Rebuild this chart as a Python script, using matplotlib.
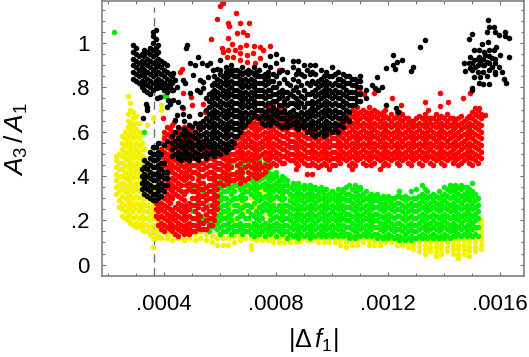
import matplotlib
matplotlib.use("Agg")
import matplotlib.pyplot as plt
from matplotlib.ticker import FixedLocator

plt.rcParams['font.family'] = ['Liberation Sans', 'DejaVu Sans']
plt.rcParams['mathtext.fontset'] = 'custom'
plt.rcParams['mathtext.rm'] = 'Liberation Sans'
plt.rcParams['mathtext.it'] = 'Liberation Sans:italic'

# columns: x (in 1e-5) -> y values (in 0.01)
yellow_cols = {
 23:[32,35,38,41,44,47,49], 25:[22,25,28,31,34,37,40,43,46,49,52,55,58], 24:[26,29,33,36,40,43,46,50],
 27:[20,23,26,29,32,35,38,41,44,47,50,53,56,59,62,65,68,76], 26:[21,24,27,30,33,36,39,42,45,48,51,54,57,60],
 28:[19,22,25,28,31,34,37,40,43,46,49,52,55,58,61,64,70,73], 29:[18,21,24,27,30,33,36,39,42,45,48,51,54,57,60,63,66,69],
 30:[17,19,22,25,28,31,34,37,40,43,46,49,52,55,58,61,64,67], 31:[18,21,24,27,30,33,36,39,42,45,48,51,54,57,60,64],
 32:[16,19,22,25,28,31,34,37,40,43,46,49,52,55,59], 33:[15,18,21,24,27,30,33,36,39,42,45,48,52],
 34:[15,18,21,24,27,30,33,36,39,42,63], 35:[14,17,20,23,26,29,32,35,38,41,44,46], 36:[8,12,15,18,21,24,27,30,33,66],
 37:[12,15,18,21,24,27,30,33,36,38], 38:[13,16,19,22,25,28], 39:[12,15,18,21,24,27,30,70,72],
 41:[12,14,17,20], 43:[11,14,17], 45:[12,15], 47:[11,14], 49:[12,15], 51:[11,14], 53:[12,15],
 55:[11,14], 57:[10,13], 59:[9,12,15], 61:[9,12,22,30], 63:[9,12,26,36], 65:[10,13,20,34],
 67:[11,13,28,40], 69:[12,24,34,44], 71:[7,9,12,19,30,41], 73:[11,13,26,37], 75:[11,14,33,45],
 77:[11,13,22,31], 79:[10,12,28,38], 81:[10,12,34], 83:[10,13,25], 85:[10,12,31], 87:[10,12],
 89:[11,13,24], 91:[11,13,35,36], 93:[11,13], 95:[10,12,30], 97:[10,12], 99:[10,12], 101:[10,12,32],
 103:[9,11,13], 105:[8,10,12], 107:[9,11,13], 109:[9,11,13], 111:[10,12], 113:[9,11,13], 115:[9,11,13],
 117:[9,11,13], 119:[10,12], 121:[10,12], 123:[9,11], 125:[9,11], 127:[8,10,12], 129:[7,9,11],
 131:[6,8,10,12], 133:[5,7,9,11], 135:[6,8,10,12], 137:[4,6,8,10,12], 139:[5,7,9,11], 141:[6,8,10,12],
 143:[5,7,9,11], 145:[3,5,7,9,11], 147:[5,7,9,11], 149:[4,6,8,10,12], 151:[6,8,10,12,16], 153:[7,9,11,13,15,18,20],
}
green_cols = {
 58:[17,20,23,26,29,32,35], 60:[14,17,20,23,26,29,32,35,38],
 62:[15,18,21,24,27,30,33,36,39,42], 64:[14,17,20,23,29,32,35,38,41,44,46],
 66:[15,18,21,24,27,30,36,39,42,45], 68:[14,17,23,26,29,32,35,38,41,44,46],
 70:[15,18,21,24,27,33,36,39,42,45,47], 72:[13,16,19,22,28,31,34,37,40,43,48],
 74:[14,17,20,23,26,29,32,35,38,41,44,47], 76:[13,16,19,25,28,31,34,37,40,43,46],
 78:[14,17,20,23,26,29,32,35,38,41,44], 80:[13,16,19,22,25,31,34,37,40,42],
 82:[14,17,20,23,26,29,32,35,38,40], 84:[12,15,18,21,24,27,33,36,38],
 86:[13,16,19,22,25,28,31,34,37], 88:[12,15,18,21,24,27,30,33,35,37],
 90:[13,16,19,22,25,28,31,34,36], 92:[12,15,18,21,24,27,30,33,36],
 94:[13,16,19,22,25,28,31,34,35], 96:[13,15,18,21,24,27,30,33,35],
 98:[13,16,19,22,25,28,31,34], 100:[13,15,18,21,24,27,30,33],
 102:[13,16,19,22,25,28,31,34], 104:[13,15,18,21,24,27,30,33,34],
 106:[12,14,17,20,23,26,29,32,36], 108:[12,15,18,21,24,27,30,33,36],
 110:[13,16,19,22,25,28,31,34,35], 112:[13,15,18,21,24,27,30,33],
 114:[13,16,19,22,25,28,31,32], 116:[12,14,17,20,23,26,29,32],
 118:[12,15,18,21,24,27,30,31], 120:[12,14,17,20,23,26,29,31],
 122:[12,15,18,21,24,27,30], 124:[11,13,16,19,22,25,28,31,33],
 126:[11,14,17,20,23,26,29,31], 128:[11,13,16,19,22,25,28,33],
 130:[12,15,18,21,24,27,30,34], 132:[12,14,17,20,23,26,29,32,36],
 134:[12,15,18,21,24,27,30,33], 136:[12,14,17,20,23,26,29,32],
 138:[12,15,18,21,24,27,30,33], 140:[12,14,17,20,23,26,29,32,35],
 142:[12,15,18,21,24,27,30,33,36], 144:[13,15,18,21,24,27,30,33,36],
 146:[13,16,19,22,25,28,31,34,36], 148:[13,15,18,21,24,27,30,33,35],
 150:[13,16,19,22,25,28,31,33,37], 152:[13,17,21,24,27,30],
 40:[58,76], 50:[24,35], 52:[18,28,40], 54:[20,22,33], 56:[15,17,19,27],
}
green_fill_cols = {
 59:[16,19,22,25,28,31,34], 61:[15,18,21,24,27,30,33,36], 63:[16,19,22,25,28,34,37,40],
 65:[15,18,24,27,30,33,36], 67:[16,19,22,25,31,34,37], 69:[15,18,21,27,30,33,36],
 71:[14,17,23,26,32,35,38], 73:[15,18,21,24,30,33,36,39], 75:[15,18,21,24,27,30,36,39],
 77:[15,18,24,27,30,33,36,39,42], 79:[15,18,21,24,27,30,33,36,39,41], 81:[15,18,21,24,27,30,33,36,38],
 83:[15,18,21,24,27,30,33,36,39], 85:[14,17,20,23,26,29,32,35], 87:[14,17,20,23,26,29,32,35],
 89:[14,17,20,23,26,29,32,35], 91:[14,17,20,23,26,29,32,35], 93:[14,17,20,23,26,29,32,35],
 95:[14,17,20,23,26,29,32,34], 97:[14,17,20,23,26,29,32,34], 99:[14,17,20,23,26,29,32],
 101:[14,17,20,23,26,29,32], 103:[14,17,20,23,26,29,32], 105:[14,17,20,23,26,29,32,35],
 107:[13,16,19,22,25,28,31,34], 109:[14,17,20,23,26,29,32,34], 111:[14,17,20,23,26,29,32],
 113:[14,17,20,23,26,29,31], 115:[14,17,20,23,26,29,31], 117:[13,16,19,22,25,28,30],
 119:[13,16,19,22,25,28,30], 121:[13,16,19,22,25,28,30], 123:[13,16,19,22,25,28,31],
 125:[12,15,18,21,24,27,30], 127:[12,15,18,21,24,27,30], 129:[12,15,18,21,24,27,30],
 131:[13,16,19,22,25,28,31], 133:[13,16,19,22,25,28,31,34], 135:[13,16,19,22,25,28,31],
 137:[13,16,19,22,25,28,31], 139:[13,16,19,22,25,28,31], 141:[13,16,19,22,25,28,31,34],
 143:[13,16,19,22,25,28,31,34], 145:[14,17,20,23,26,29,32,35], 147:[14,17,20,23,26,29,32,35],
 149:[14,17,20,23,26,29,32,34], 151:[14,17,20,23,26,29,32],
}
green_x = [22.1, 32.9, 40.7]
green_y = [105, 59.7, 76.2]
red_cols = {
 37:[22,25,28,30], 39:[16,19,22,25,28,31,34,37,40,43,46,49,52,55],
 41:[17,20,23,26,29,32,35,38,41,44,47,50,53,56,59,62],
 43:[15,18,21,24,30,33,36,39,42,45,48,51,54,57,60,63],
 45:[13,16,19,22,25,28,31,34,37,40,43,46,49,52,55,58,60],
 47:[14,17,20,23,26,29,32,38,41,44,47,50,53,56,59,62],
 49:[14,16,19,22,25,28,34,37,40,43,46,49,52,55,58,61,63],
 51:[15,18,21,24,27,30,33,36,42,45,48,51,54,57,60],
 53:[16,19,22,28,31,34,37,40,43,46,49,52,55,58],
 55:[16,20,23,26,29,32,35,41,44,47,50,53,55],
 57:[18,21,24,27,30,33,36,39,42,45,48,52],
 59:[25,28,31,34,37,40,43,46,49,52], 61:[36,39,42,45,48,50], 63:[37,40,43,46,49,52],
 65:[38,41,47,50,53,56], 67:[37,40,43,46,49,52,55,58,60], 69:[38,44,47,50,53,56,59,62],
 71:[41,44,47,50,53,56,59,62,64], 73:[39,42,45,48,51,54,57,60,63,66], 75:[41,44,50,53,56,59,62,65,68],
 77:[44,47,50,53,56,59,62,65,68,71], 79:[46,49,52,55,58,61,64,67,70,73], 81:[47,50,53,56,59,62,65,68,71,88],
 83:[46,49,52,55,58,61,64,67,70], 85:[47,50,53,56,59,62,65,68], 87:[43,46,49,52,55,58,61,64,67],
 89:[47,50,53,56,59,62,65], 91:[41,45,48,51,54,57,60,63,66], 93:[41,46,49,52,55,58,61,64],
 95:[44,47,50,53,56,59,62], 97:[46,49,52,55,58,61,64], 99:[43,47,50,53,56,59,62],
 101:[45,48,51,54,57,60,63], 103:[46,49,52,55,58,61,64], 105:[47,50,53,56,59,62,65,68],
 107:[43,46,49,52,55,58,61,64,67,70], 109:[47,50,53,56,59,62,65,68,71],
 111:[46,49,52,55,58,61,64,67,70], 113:[47,50,53,56,59,62,65,68,71],
 115:[46,49,52,55,58,61,64,67,70], 117:[43,47,50,53,56,59,62,65,68],
 119:[46,49,52,55,58,61,64,67,70], 121:[47,50,53,56,59,62,65,68],
 123:[46,49,52,55,58,61,64,67,69], 125:[47,50,53,56,59,62,65,68],
 127:[46,49,52,55,58,61,64,66], 129:[47,50,53,56,59,62,65],
 131:[46,49,52,55,58,61,64,67], 133:[47,50,53,56,59,62,65,68],
 135:[46,49,52,55,58,61,64,66], 137:[47,50,53,56,59,62,65,68],
 139:[46,49,52,55,58,61,64,67], 141:[47,50,53,56,59,62,65,68],
 143:[46,49,52,55,58,61,64,66], 145:[45,48,51,54,57,60,63,66],
 147:[47,50,53,56,59,62,65], 149:[46,49,52,55,58,61,64,67],
 151:[47,50,53,56,59,62,65,68], 153:[48,51,54,57,60,63,66,68],
}
red_fill_cols = {
 38:[18,21,24,27,30,33,36,39], 40:[15,18,21,24,27,30,33,36,39,42,45,48,51,54,57,60],
 42:[16,19,22,25,28,31,34,37,43,46,49,52,55,58,61], 44:[14,17,20,23,26,32,35,38,41,44,47,50,53,56,59],
 46:[15,18,21,24,27,30,33,36,39,42,45,48,51,54,57,61], 48:[15,18,21,24,27,33,36,39,42,45,48,51,54,57,60],
 50:[15,18,21,27,30,33,36,39,42,45,48,51,54,57,60], 52:[17,20,23,26,29,32,35,38,41,44,47,50,53,56],
 54:[16,19,25,28,31,34,37,40,43,46,49,52,55], 56:[18,21,24,30,33,36,39,42,45,48,51,54],
 58:[20,23,26,29,32,35,38,41,44,47,50], 60:[37,40,43,46,49,52], 62:[38,41,44,47,50],
 64:[38,41,44,47,50,53], 66:[39,42,45,48,51,54,57], 68:[39,42,48,51,54,57,60],
 70:[39,42,45,48,51,54,57,60,63], 72:[40,43,46,49,52,55,58,61,64], 74:[40,43,46,49,52,55,58,61,64,67],
 76:[42,45,48,51,54,57,60,63,66], 78:[45,48,51,54,57,60,63,66,69], 80:[45,48,51,54,57,60,63,66,69],
 82:[46,49,52,55,58,61,64,67], 84:[48,51,54,57,60,63,66], 86:[47,50,53,56,59,62,65], 88:[45,48,51,54,57,60,63],
 90:[46,49,52,55,58,61,64], 92:[45,48,51,54,57,60,63], 94:[45,48,51,54,57,60], 96:[45,48,51,54,57,60],
 98:[45,48,51,54,57,60], 100:[45,48,51,54,57,60], 102:[47,50,53,56,59,62], 104:[48,51,54,57,60,63,66],
 106:[45,48,51,54,57,60,63,66,69], 108:[45,48,51,54,57,60,63,66,69], 110:[48,51,54,57,60,63,66,69],
 112:[45,48,51,54,57,60,63,66,69], 114:[45,48,51,54,57,60,63,66,69], 116:[48,51,54,57,60,63,66,69],
 118:[45,48,51,54,57,60,63,66,69], 120:[45,48,51,54,57,60,63,66], 122:[48,51,54,57,60,63,66],
 124:[45,48,51,54,57,60,63,66,69], 126:[48,51,54,57,60,63,66], 128:[45,48,51,54,57,60,63,65],
 130:[48,51,54,57,60,63,66], 132:[45,48,51,54,57,60,63,66], 134:[48,51,54,57,60,63,66],
 136:[45,48,51,54,57,60,63,66], 138:[48,51,54,57,60,63,66], 140:[45,48,51,54,57,60,63,66],
 142:[48,51,54,57,60,63,66], 144:[47,50,53,56,59,62,65], 146:[46,49,52,55,58,61,64,67],
 148:[48,51,54,57,60,63,66], 150:[45,48,51,54,57,60,63,66,69], 152:[46,49,52,55,58,61,64,67,70],
}
red_x = [61.2,60,59,56.7,65.6,63,63.3,67.1,70.5,66.2,68.3,69.8,63,64.2,60.6,67.1,69.3,72.2,74.3,75.5,61.2,63,65.4,67.1,69.5,71.9,62.4,64.8,67.1,69.5,72.5,74.3,46.3,45.7,46.7,49.5,39.8,43.5,46.9,49.9,54,54.8,
         138.6,133,134.4,138.6,141.3,146.7,149.3,121.3,114.8,111.5,110,124.6,77.9,81.4,152.5,154.6,151]
red_y = [118.2,116.7,110.7,102,113.4,108.9,107.7,109.2,109.2,104.4,105.1,103.6,102.1,99.8,97.6,98.3,99.1,98.6,98.3,96.8,96,96.8,96.8,95.3,94.6,95.3,93.8,93.8,92.3,91.6,90.8,93.1,88.5,87,77.3,75.8,66,64.5,70.5,72,72.7,69,
         77.6,73.5,69.7,71.5,73.4,75.2,77.3,75,77.3,76.8,78,72,98.8,88,70.5,67.5,70.5]
black_low_cols = {
 32:[34,37,40,43], 33:[32,35,38,41,44,47], 34:[31,34,37,40,43,46], 35:[30,33,36,39,42,45,48,51],
 36:[29,32,35,38,41,44,47,50,53], 37:[29,32,35,38,41,44,47,50,53], 38:[30,33,36,39,42,45,48,51,55],
 39:[31,34,37,40,43,46,50], 40:[33,36,39,42,46,54], 41:[36,39,42,56],
}
black_blob_cols = {
 43:[49,52,55,58], 44:[50,53,56,60], 45:[48,51,54,57,62], 46:[47,50,53,56,59], 47:[49,52,55,58,61,65],
 48:[48,51,54,57,60], 49:[47,50,53,56,59,63,67], 50:[49,52,55,58,62], 51:[48,51,54,57,60,64],
 52:[47,50,53,56,59,62], 53:[49,52,55,58,61,64,68], 54:[50,53,56,59,62,65], 55:[48,51,54,57,60,63,66,70,75],
 56:[50,53,56,59,62,65,68,71,74,77], 57:[51,54,57,60,63,66,69,72,75,78,81], 58:[49,52,55,58,61,64,67,70,73,76,79,82,85],
 59:[51,54,57,60,63,66,69,72,75,78,81,84], 60:[50,53,56,59,62,65,68,71,74,77,80,83,86,88],
 61:[52,55,58,61,64,67,70,73,76,79,82,85], 62:[51,54,57,60,63,66,69,72,75,78,81,84,87,89],
 63:[52,55,58,61,64,67,70,73,76,79,82,85,88], 64:[53,56,59,62,65,68,71,74,77,80,83,86,88,90],
 65:[55,58,61,64,67,70,73,76,79,82,85,88], 66:[58,61,64,67,70,73,76,79,82,85,88],
 67:[60,63,66,69,72,75,78,81,84,87], 68:[62,65,68,71,74,77,80,83,86,89], 69:[63,66,69,72,75,78,81,84,87],
 70:[65,68,71,74,77,80,83,86,88], 71:[66,69,72,75,78,81,84,87], 72:[68,71,74,77,80,83,86,89],
 73:[67,70,73,76,79,82,85,87], 74:[66,70,73,76,79,82,85,88], 75:[64,67,70,73,76,79,82,85],
 76:[63,66,69,72,75,78,81,84,86,90], 77:[64,67,70,73,76,79,82,85,87], 78:[63,66,70,73,76,79,83,89,94],
 79:[65,68,71,74,77,80,83,86], 80:[64,67,70,74,77,80,85,91,95], 81:[63,66,69,72,75,78,82,87],
 82:[62,66,69,72,76,79,88,93], 83:[63,66,70,74,78,84], 84:[62,65,68,72,75,78,82,87], 85:[63,66,69,73,77,81],
 86:[64,67,70,73,76,79,84,89,92], 87:[62,65,68,72,75,80,86], 88:[61,64,67,71,74,78,83,88,92],
 89:[63,66,69,73,76,81,86], 90:[62,65,68,71,75,79,85,90], 91:[60,63,66,69,73,77,82,88],
 92:[61,64,67,70,73,77,81,86,90], 93:[59,62,65,68,71,74,78,83,87], 94:[58,61,64,67,70,73,76,79,82,86,90],
 95:[59,62,65,68,71,74,77,80,83], 96:[60,63,66,69,72,75,78,81,84,88], 97:[58,61,64,67,70,73,76,79,82,85],
 98:[59,62,65,68,71,74,77,80,83,87], 99:[61,64,67,70,73,76,79,82,85], 100:[60,63,66,69,72,75,78,81,85,89],
 101:[61,64,67,70,73,76,79,82,86], 102:[60,63,66,69,72,75,78,81,84,87], 103:[63,66,69,72,75,78,81,84],
 104:[62,65,68,71,74,77,80,83,86], 105:[66,70,73,76,79,82,85], 106:[65,69,72,75,78,82,85],
 107:[72,75,78,81,84], 108:[72,75,78,81,84], 109:[74,77,80,83], 110:[74,77,80,83,85], 112:[75,79],
}
black_up_cols = {
 29:[84,87,90,93,96,99], 30:[83,86,89,92,95,98], 31:[82,85,88,91,94], 32:[80,83,86,89,92,95],
 33:[79,82,85,88,91,94,97], 34:[78,81,84,87,90,93,96], 35:[77,80,83,86,89,92,95,98],
 36:[79,82,85,88,91,94,97,100,103,105], 37:[80,83,86,89,92,95,98,102,106], 38:[81,84,87,90,93,96,99],
 39:[80,83,86,89,92], 40:[79,82,85,88,91], 41:[78,81,84,87,90], 42:[80,83,86], 43:[79,82,85],
 150:[88,91], 152:[87,90,93], 154:[87,90,93], 156:[88,91,94], 158:[87,93],
}
black_x = [32.6,33.8,33.8,33.6,41,41.6,42.2,43.3,45.1,46.3,46.9,44.5,43.9,48.1,47.8,49.3,51,52.3,53.5,55.2,56.4,51.7,52.9,54,49.3,46.9,47.5,43.3,43.9,44.5,41.5,43.3,39.8,37.4,38.6,37.4,50.5,52.9,54,55.8,57.6,60,58.8,
           121.9,123.1,125.1,121.9,122.5,119.4,128,129,131.4,133,116,114.4,115.4,117.7,116.5,119.2,122.7,123.4,
           155.6,156.1,157.6,155.2,158.2,159.4,161.8,161.8,163.2,150.1,148.7,153.5,155.6,158.5,156.1,154.1,150.8,152.3,157.6,160,163,149.3,152.3,154.6,157,146.9,148.7,150.5,152.9,155.2,158.2,159.4,147.5,149.3,151.1,154.1,157,160.6,150.5,152.9,155.2,158,161.2,152.3,154,156.1,162,150.1,149.9]
black_y = [66,69.7,71.2,72.7,71,74.2,72.7,74.2,73.5,71.2,68.2,67.5,65.2,99,97.6,90.8,90,93.8,90.8,90,90.8,78.8,78,79.5,77.3,83.3,81.8,86.3,83.3,80.3,80.3,78.8,81,79.5,75.8,75,85.5,83.3,82.5,84.8,87.8,92.3,88.5,
           94.6,91.6,92.3,90.1,88.1,88.6,87.5,89.3,98.3,101.3,84.5,81,79.5,80.3,79,72,70.5,69,
           110.4,107.4,107.4,105.1,105.1,103.6,105.1,103.1,102.5,104,101.8,99.8,100.6,98.3,96.8,96.1,96.8,96.8,96.8,94.6,93.8,93.8,93.8,94.6,93.1,90.8,90.8,92.3,91.6,91.6,90.8,89.3,87.5,88.6,89.3,90,89.3,87,84.5,84.5,85.1,86,84,81.8,81.5,81.5,81.8,79.5,79]
x_ticks = [0.0004, 0.0008, 0.0012, 0.0016]
x_labels = ['.0004', '.0008', '.0012', '.0016']
y_ticks = [0, 0.2, 0.4, 0.6, 0.8, 1.0]
y_labels = ['0', '.2', '.4', '.6', '.8', '1']
x_minor = [0.0002, 0.0003, 0.0005, 0.0006, 0.0007, 0.0009, 0.0010, 0.0011, 0.0013, 0.0014, 0.0015]
y_minor = [0.05, 0.1, 0.15, 0.25, 0.3, 0.35, 0.45, 0.5, 0.55, 0.65, 0.7, 0.75, 0.85, 0.9, 0.95, 1.05, 1.1, 1.15]
dash_x = 0.000363


def expand(cols_list, xs=(), ys=()):
    px, py = [], []
    for cols in cols_list:
        for k, v in cols.items():
            for val in v:
                px.append(k * 1e-5)
                py.append(val / 100)
    px += [a * 1e-5 for a in xs]
    py += [b / 100 for b in ys]
    return px, py


fig = plt.figure(figsize=(5.29, 3.57), dpi=100)
ax = fig.add_axes([102 / 529, 1 - 276 / 357, (523.5 - 102) / 529, (276 - 1) / 357])
ax.set_xlim(0.000179, 0.001683)
ax.set_ylim(-0.0515, 1.19)
ax.plot([dash_x, dash_x], [-0.0515, 1.165], color='#707070', lw=1, dashes=(6, 4), zorder=1)
S = 16
for pts, c in [(expand([yellow_cols]), '#f2f200'),
               (expand([green_cols, green_fill_cols], green_x, green_y), '#00f000'),
               (expand([red_cols, red_fill_cols], red_x, red_y), '#ff0000'),
               (expand([black_low_cols, black_blob_cols, black_up_cols], black_x, black_y), '#000000')]:
    ax.scatter(pts[0], pts[1], s=S, c=c, linewidths=0, zorder=2)
ax.xaxis.set_major_locator(FixedLocator(x_ticks))
ax.yaxis.set_major_locator(FixedLocator(y_ticks))
ax.xaxis.set_minor_locator(FixedLocator(x_minor))
ax.yaxis.set_minor_locator(FixedLocator(y_minor))
ax.set_xticklabels(x_labels, fontsize=16)
ax.set_yticklabels(y_labels, fontsize=16)
ax.tick_params(which='major', direction='in', length=3, width=0.8, color='#707070', top=True, right=True)
ax.tick_params(axis='x', which='major', pad=13)
ax.tick_params(axis='y', which='major', pad=9)
ax.tick_params(which='minor', direction='in', length=2, width=0.8, color='#707070', top=True, right=True)
for s in ax.spines.values():
    s.set_color('#808080')
    s.set_linewidth(1.2)
fig.text(313 / 529, 1 - 340 / 357, r'$|\Delta\,f_{1}|$', fontsize=18, ha='center', va='center')
fig.text(16 / 529, 1 - 139 / 357, r'$A_{3}\,/\,A_{1}$', fontsize=19, rotation=90, ha='center', va='center')
fig.savefig('out.png', dpi=100)
